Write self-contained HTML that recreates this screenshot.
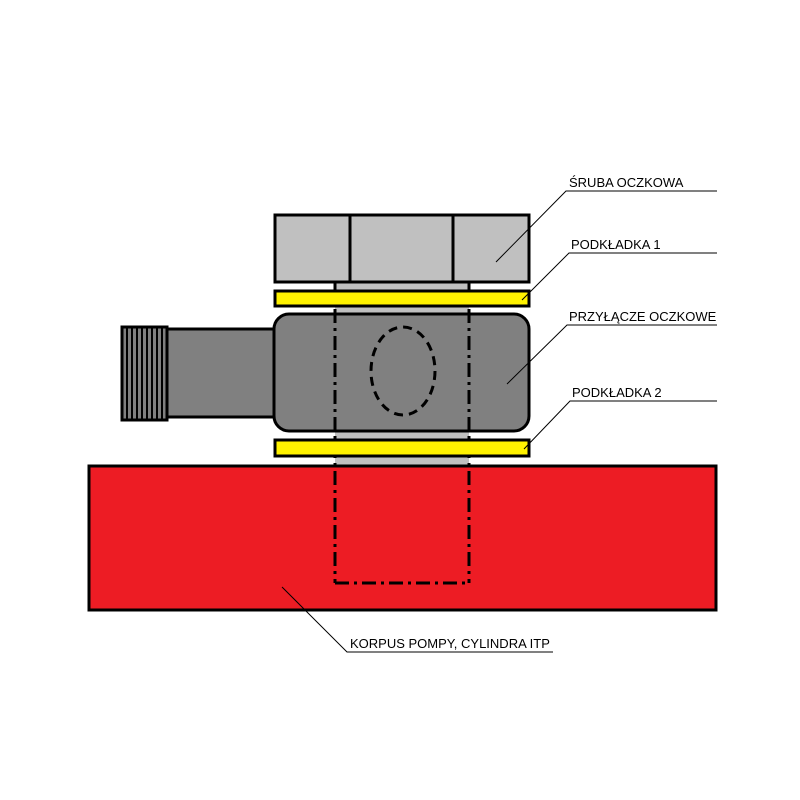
<!DOCTYPE html>
<html><head><meta charset="utf-8"><style>body{margin:0;background:#fff}svg{display:block}</style></head><body>
<svg width="800" height="800" viewBox="0 0 800 800" xmlns="http://www.w3.org/2000/svg" font-family="Liberation Sans, sans-serif" font-size="13">
<rect x="0" y="0" width="800" height="800" fill="#fff"/>
<rect x="335" y="282" width="134" height="183" fill="#c0c0c0"/>
<rect x="275" y="215" width="254" height="67" fill="#c0c0c0" stroke="#000" stroke-width="3"/>
<line x1="350" y1="215" x2="350" y2="282" stroke="#000" stroke-width="3"/>
<line x1="453" y1="215" x2="453" y2="282" stroke="#000" stroke-width="3"/>
<rect x="167" y="329" width="108" height="88" fill="#808080" stroke="#000" stroke-width="3"/>
<rect x="122" y="327" width="45" height="93" fill="#808080" stroke="#000" stroke-width="3"/>
<g stroke="#000" stroke-width="2">
<line x1="127" y1="327" x2="127" y2="420"/><line x1="132" y1="327" x2="132" y2="420"/><line x1="137" y1="327" x2="137" y2="420"/><line x1="142" y1="327" x2="142" y2="420"/><line x1="147" y1="327" x2="147" y2="420"/><line x1="152" y1="327" x2="152" y2="420"/><line x1="157" y1="327" x2="157" y2="420"/><line x1="162" y1="327" x2="162" y2="420"/>
</g>
<rect x="274" y="314" width="255" height="117" rx="15" fill="#808080" stroke="#000" stroke-width="3"/>
<rect x="89" y="466" width="627" height="144" fill="#ed1c24" stroke="#000" stroke-width="3"/>
<g stroke="#000" stroke-width="3" fill="none" stroke-dasharray="14,5,3,5">
<line x1="335" y1="282" x2="335" y2="583"/>
<line x1="469" y1="282" x2="469" y2="583"/>
<line x1="335" y1="583" x2="469" y2="583"/>
</g>
<rect x="275" y="291" width="254" height="15" fill="#fff200" stroke="#000" stroke-width="3"/>
<rect x="275" y="440" width="254" height="16" fill="#fff200" stroke="#000" stroke-width="3"/>
<ellipse cx="403" cy="371" rx="32" ry="44" fill="none" stroke="#000" stroke-width="3" stroke-dasharray="9,6"/>
<g stroke="#000" stroke-width="1" fill="none">
<polyline points="496,262 566,191 717,191"/>
<polyline points="522,300 569,253 717,253"/>
<polyline points="507,384 567,325 717,325"/>
<polyline points="524,449 570,401 717,401"/>
<polyline points="282,587 347,652 553,652"/>
</g>
<g fill="#000">
<text x="569" y="187">ŚRUBA OCZKOWA</text>
<text x="571" y="249">PODKŁADKA 1</text>
<text x="569" y="321">PRZYŁĄCZE OCZKOWE</text>
<text x="572" y="397">PODKŁADKA 2</text>
<text x="350" y="648">KORPUS POMPY, CYLINDRA ITP</text>
</g>
</svg>
</body></html>
